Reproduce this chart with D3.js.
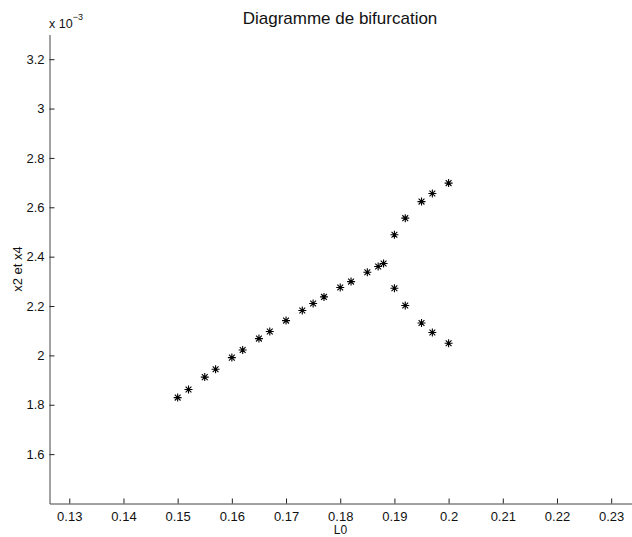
<!DOCTYPE html>
<html>
<head>
<meta charset="utf-8">
<script src="https://cdn.jsdelivr.net/npm/d3@7"></script>
<style>
body { margin: 0; background: #fff; }
svg text { font-family: "Liberation Sans", Arial, Helvetica, sans-serif; fill: #111; }
</style>
</head>
<body>
<svg id="chart" width="632" height="537"></svg>
<script>
// bifurcation data, y values in units of 1e-3
var mainL = [0.150, 0.152, 0.155, 0.157, 0.160, 0.162, 0.165, 0.167, 0.170, 0.173, 0.175, 0.177, 0.180, 0.182, 0.185, 0.187, 0.188];
var mainX = [1.829, 1.862, 1.912, 1.944, 1.991, 2.022, 2.068, 2.097, 2.141, 2.182, 2.210, 2.237, 2.275, 2.299, 2.337, 2.360, 2.372];
var branchL = [0.190, 0.192, 0.195, 0.197, 0.200];
var upperX = [2.489, 2.556, 2.623, 2.656, 2.698];
var lowerX = [2.272, 2.202, 2.131, 2.093, 2.049];

var xTicks = [0.13, 0.14, 0.15, 0.16, 0.17, 0.18, 0.19, 0.2, 0.21, 0.22, 0.23];
var yTicks = [1.6, 1.8, 2, 2.2, 2.4, 2.6, 2.8, 3, 3.2];
var xDomain = [0.12635, 0.23375];
var yDomain = [1.4, 3.3];

var svg = d3.select('#chart');
var mLeft = 49.5, mRight = 631.5, mTop = 34.5, mBottom = 503.5;

var x = d3.scaleLinear().domain(xDomain).range([mLeft, mRight]);
var y = d3.scaleLinear().domain(yDomain).range([mBottom, mTop]);

function fmt(v)
{
	return String(+v.toFixed(2));
}

// x axis
var gx = svg.append('g').attr('transform', 'translate(0,' + mBottom + ')')
	.call(d3.axisBottom(x).tickValues(xTicks).tickSizeInner(-5).tickSizeOuter(0).tickPadding(8).tickFormat(fmt));
// y axis
var gy = svg.append('g').attr('transform', 'translate(' + mLeft + ',0)')
	.call(d3.axisLeft(y).tickValues(yTicks).tickSizeInner(-5).tickSizeOuter(0).tickPadding(5).tickFormat(fmt));

[gx, gy].forEach(g => {
	g.select('.domain').attr('stroke', '#444').attr('stroke-width', 1);
	g.selectAll('.tick line').attr('stroke', '#222');
	g.selectAll('.tick text').attr('font-size', 13).attr('fill', '#111')
		.attr('font-family', '"Liberation Sans", Arial, sans-serif');
});

// asterisk marker
function star(cx, cy)
{
	var r = 4, d = 2.9;
	return 'M' + (cx - r) + ',' + cy + 'H' + (cx + r) +
		'M' + cx + ',' + (cy - r) + 'V' + (cy + r) +
		'M' + (cx - d) + ',' + (cy - d) + 'L' + (cx + d) + ',' + (cy + d) +
		'M' + (cx - d) + ',' + (cy + d) + 'L' + (cx + d) + ',' + (cy - d);
}

var pts = [];
mainL.forEach((l, i) => pts.push({ l: l, v: mainX[i] }));
branchL.forEach((l, i) => pts.push({ l: l, v: upperX[i] }));
branchL.forEach((l, i) => pts.push({ l: l, v: lowerX[i] }));

svg.append('g').selectAll('path').data(pts).enter().append('path')
	.attr('d', d => star(x(d.l), y(d.v)))
	.attr('stroke', '#000').attr('stroke-width', 1.1).attr('fill', 'none');

// title and labels
svg.append('text').attr('x', 340).attr('y', 24).attr('text-anchor', 'middle')
	.attr('font-size', 17).text('Diagramme de bifurcation');

svg.append('text').attr('x', (mLeft + mRight) / 2).attr('y', 534).attr('text-anchor', 'middle')
	.attr('font-size', 12).text('L0');

svg.append('text').attr('transform', 'translate(22,' + ((mTop + mBottom) / 2) + ') rotate(-90)')
	.attr('text-anchor', 'middle').attr('font-size', 13).text('x2 et x4');

var mult = svg.append('text').attr('x', 49).attr('y', 28).attr('font-size', 12.5);
mult.append('tspan').text('x 10');
mult.append('tspan').attr('dy', -8).attr('font-size', 9).text('\u22123');
</script>
</body>
</html>
